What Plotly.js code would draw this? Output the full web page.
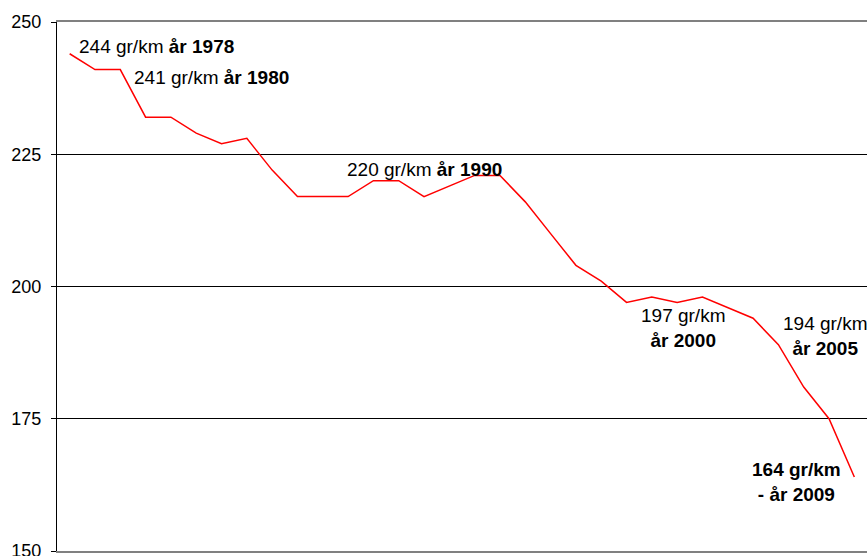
<!DOCTYPE html>
<html>
<head>
<meta charset="utf-8">
<script src="https://cdn.plot.ly/plotly-3.0.1.min.js"></script>
<style>html,body{margin:0;padding:0;background:#fff;overflow:hidden;}#chart{width:868px;height:580px;}</style>
</head>
<body>
<div id="chart"></div>
<script>
const years = [1978,1979,1980,1981,1982,1983,1984,1985,1986,1987,1988,1989,1990,1991,1992,1993,1994,1995,1996,1997,1998,1999,2000,2001,2002,2003,2004,2005,2006,2007,2008,2009];
const emissions = [244,241,241,232,232,229,227,228,222,217,217,217,220,220,217,219,221,221,216,210,204,201,197,198,197,198,196,194,189,181,175,164];
const yTicks = [150,175,200,225,250];

const labelTexts = [
  "244 gr/km <b>år 1978</b>",
  "241 gr/km <b>år 1980</b>",
  "220 gr/km <b>år 1990</b>",
  "197 gr/km<br><b>år 2000</b>",
  "194 gr/km<br><b>år 2005</b>",
  "<b>164 gr/km</b><br><b>- år 2009</b>"
];
const labelX = [1978.33, 1980.52, 1988.92, 2002.23, 2007.84, 2006.70];
const labelY = [245.46, 239.6, 222.2, 192.25, 190.55, 163.04];
const labelAnchor = ["left","left","left","center","center","center"];

const FONT = "Liberation Sans, Arial, sans-serif";

const annotations = labelTexts.map((t, i) => ({
  text: t, x: labelX[i], y: labelY[i], xref: "x", yref: "y",
  xanchor: labelAnchor[i], yanchor: "middle", showarrow: false,
  align: "center", borderpad: 0,
  font: {family: FONT, size: 19, color: "#000"}
}));

const trace = {
  x: years, y: emissions, type: "scatter", mode: "lines",
  line: {color: "#ff0000", width: 1.5}, hoverinfo: "skip"
};

const layout = {
  width: 868, height: 580,
  margin: {l: 57, r: 1, t: 22, b: 29, pad: 0},
  paper_bgcolor: "#fff", plot_bgcolor: "#fff",
  showlegend: false,
  font: {family: FONT, size: 18, color: "#000"},
  xaxis: {
    range: [1977.5, 2009.5], showgrid: false, zeroline: false,
    showticklabels: false, ticks: "",
    showline: true, linecolor: "#808080", linewidth: 2, mirror: true
  },
  yaxis: {
    range: [150, 250], tickvals: yTicks, ticktext: yTicks.map(String),
    showgrid: true, gridcolor: "#000", gridwidth: 1, zeroline: false,
    showline: true, linecolor: "#000", linewidth: 1,
    ticks: "outside", ticklen: 5, tickcolor: "#000", tickwidth: 1,
    ticklabelstandoff: 6,
    tickfont: {family: FONT, size: 18, color: "#000"}
  },
  annotations: annotations
};

Plotly.newPlot("chart", [trace], layout, {staticPlot: true, displayModeBar: false});
</script>
</body>
</html>
